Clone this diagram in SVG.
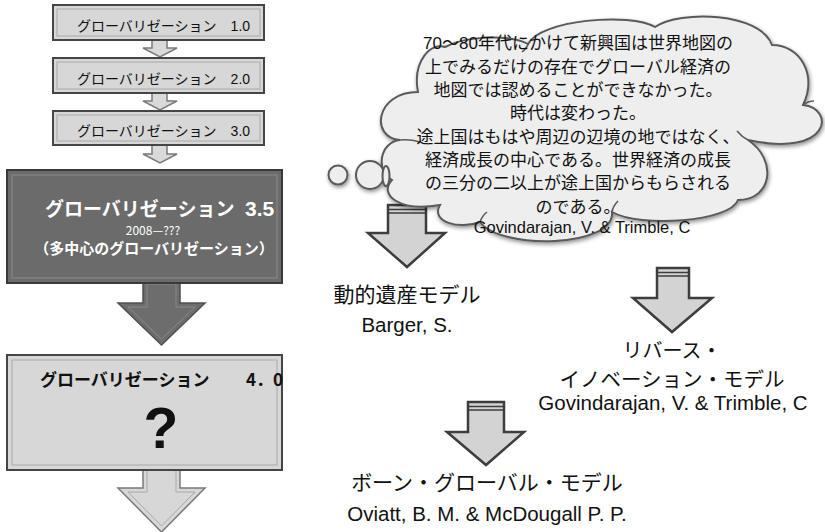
<svg xmlns="http://www.w3.org/2000/svg" width="825" height="532" viewBox="0 0 825 532">
<defs>
<style>
.jp{font-family:"Noto Sans CJK JP","Liberation Sans",sans-serif}
.lat{font-family:"Liberation Sans","Noto Sans CJK JP",sans-serif}
.sbox{fill:#d7d7d7;stroke:#454545;stroke-width:2}
.bev{fill:none;stroke:#a9a9a9;stroke-width:1}
.sarrow{fill:#dadada;stroke:#7a7a7a;stroke-width:1.5}
.rarrow{fill:#d3d3d3;stroke:#3d3d3d;stroke-width:2.5;stroke-linejoin:miter}
.stripe{stroke:#3d3d3d;stroke-width:1.5}
.stxt{font-size:14px;fill:#111}
.ctxt{font-size:17px;fill:#111;text-anchor:middle}
.mtxt{font-size:21px;fill:#111;text-anchor:middle}
.ref{font-size:20.5px;fill:#111;text-anchor:middle}
.cl{fill:#eeeeee;stroke:#5a5a5a;stroke-width:2}
.crease{fill:none;stroke:#5a5a5a;stroke-width:1.6}
</style>
<filter id="sh" x="-10%" y="-10%" width="120%" height="130%">
<feGaussianBlur in="SourceAlpha" stdDeviation="2"/>
<feOffset dx="1" dy="2"/>
<feComponentTransfer><feFuncA type="linear" slope="0.45"/></feComponentTransfer>
<feMerge><feMergeNode/><feMergeNode in="SourceGraphic"/></feMerge>
</filter>
</defs>
<rect width="825" height="532" fill="#ffffff"/>

<g id="connectors">
<path class="sarrow" d="M152,40 L167,40 L167,48 L177,48 L160,57 L143,48 L152,48 Z"/>
<path class="sarrow" d="M152,93 L167,93 L167,101 L177,101 L160,110 L143,101 L152,101 Z"/>
<path class="sarrow" d="M152,145 L167,145 L167,154 L177,154 L160,163 L143,154 L152,154 Z"/>
<path d="M143,280 L180,280 L180,303 L205,303 L161.5,345 L118,303 L143,303 Z" fill="#6d6d6d" stroke="#505050" stroke-width="1.5"/>
<path d="M147,284 L176,284 L176,307 L195,307 L161.5,339 L128,307 L147,307 Z" fill="none" stroke="#8a8a8a" stroke-width="1"/>
<path d="M143,468 L180,468 L180,488 L205,488 L161.5,532 L118,488 L143,488 Z" fill="#d7d7d7" stroke="#7a7a7a" stroke-width="1.5"/>
<path d="M147,470 L176,470 L176,492 L195,492 L161.5,526 L128,492 L147,492 Z" fill="none" stroke="#a9a9a9" stroke-width="1"/>

<path class="rarrow" d="M388,205 L426,205 L426,233 L445,233 L407,267 L368,233 L388,233 Z"/>
<line class="stripe" x1="388" y1="209.5" x2="426" y2="209.5"/>
<line class="stripe" x1="388" y1="213" x2="426" y2="213"/>
<path class="rarrow" d="M657,268 L689,268 L689,298 L712,298 L672,332 L633,298 L657,298 Z"/>
<line class="stripe" x1="657" y1="272.5" x2="689" y2="272.5"/>
<line class="stripe" x1="657" y1="276" x2="689" y2="276"/>
<path class="rarrow" d="M468,402 L504,402 L504,432 L524,432 L486,465 L447,432 L468,432 Z"/>
<line class="stripe" x1="468" y1="406.5" x2="504" y2="406.5"/>
<line class="stripe" x1="468" y1="410" x2="504" y2="410"/>
</g>

<g id="node-g10">
<rect class="sbox" x="53" y="5" width="211" height="35"/>
<rect class="bev" x="57" y="9" width="203" height="27"/>
<text class="jp stxt" x="77" y="31">グローバリゼーション　<tspan class="lat">1.0</tspan></text>
</g>
<g id="node-g20">
<rect class="sbox" x="53" y="58" width="211" height="35"/>
<rect class="bev" x="57" y="62" width="203" height="27"/>
<text class="jp stxt" x="77" y="84">グローバリゼーション　<tspan class="lat">2.0</tspan></text>
</g>
<g id="node-g30">
<rect class="sbox" x="53" y="111" width="211" height="34"/>
<rect class="bev" x="57" y="115" width="203" height="26"/>
<text class="jp stxt" x="77" y="136">グローバリゼーション　<tspan class="lat">3.0</tspan></text>
</g>

<g id="node-g35">
<rect x="7" y="170" width="275" height="113" fill="#6b6b6b" stroke="#3a3a3a" stroke-width="2"/>
<rect x="12" y="175" width="265" height="103" fill="none" stroke="#8c8c8c" stroke-width="1"/>
<text class="jp" x="45" y="216" font-size="19" font-weight="bold" fill="#ffffff">グローバリゼーション</text>
<text class="lat" x="245" y="216" font-size="21" font-weight="bold" fill="#ffffff">3.5</text>
<text class="jp" x="153" y="235" font-size="12" fill="#ffffff" text-anchor="middle">2008—???</text>
<text class="jp" x="154" y="254" font-size="15" font-weight="bold" fill="#ffffff" text-anchor="middle">（多中心のグローバリゼーション）</text>
</g>

<g id="node-g40">
<rect x="7" y="355" width="275" height="115" fill="#d7d7d7" stroke="#454545" stroke-width="2"/>
<rect x="12" y="360" width="265" height="105" fill="none" stroke="#a9a9a9" stroke-width="1"/>
<text class="jp" x="40" y="386" font-size="17" font-weight="bold" fill="#111">グローバリゼーション</text>
<text class="jp" x="246" y="386" font-size="17" font-weight="bold" fill="#111">4．0</text>
<text class="lat" x="161" y="448" font-size="57" font-weight="bold" fill="#111" text-anchor="middle">?</text>
</g>

<g id="node-cloud">
<g filter="url(#sh)">
<circle class="cl" cx="338" cy="175" r="9.5"/>
<circle class="cl" cx="370" cy="175" r="14"/>
<path class="cl" d="M400,140 C370,138 375,92 418,92 C412,60 432,42 445,47 C465,36 510,34 528,44 C540,20 630,12 655,27 C680,10 760,12 772,45 C800,45 818,75 803,105 C835,108 832,158 748,140 C778,160 772,200 738,200 C730,222 640,228 612,212 C615,248 500,250 480,222 C460,230 430,222 440,205 C400,212 378,195 392,180 C375,170 380,142 400,140 Z"/>
<ellipse class="cl" cx="386" cy="176" rx="3.5" ry="10"/>
</g>
<path class="crease" d="M400,140 Q410,139 420,142"/>
<path class="crease" d="M803,105 Q808,101 814,101"/>
<path class="crease" d="M748,140 Q742,137 737,131"/>
<path class="crease" d="M612,212 Q613,206 618,201"/>
<path class="crease" d="M480,222 Q482,216 487,212"/>
<path class="crease" d="M528,44 Q527,48 522,52"/>
<text class="jp ctxt" x="578" y="49"><tspan class="lat">70～80</tspan>年代にかけて新興国は世界地図の</text>
<text class="jp ctxt" x="578" y="73">上でみるだけの存在でグローバル経済の</text>
<text class="jp ctxt" x="578" y="96">地図では認めることができなかった。</text>
<text class="jp ctxt" x="578" y="119">時代は変わった。</text>
<text class="jp ctxt" x="578" y="143">途上国はもはや周辺の辺境の地ではなく、</text>
<text class="jp ctxt" x="578" y="166">経済成長の中心である。世界経済の成長</text>
<text class="jp ctxt" x="578" y="189">の三分の二以上が途上国からもらされる</text>
<text class="jp ctxt" x="578" y="213">のである。</text>
<text class="lat" x="582" y="233" font-size="16.5" fill="#111" text-anchor="middle">Govindarajan, V. &amp; Trimble, C</text>
</g>

<g id="node-dynamic">
<text class="jp mtxt" x="407" y="302">動的遺産モデル</text>
<text class="lat ref" x="407" y="332">Barger, S.</text>
</g>
<g id="node-reverse">
<text class="jp" x="672" y="358" font-size="20" fill="#111" text-anchor="middle">リバース・</text>
<text class="jp" x="672" y="387" font-size="20.5" fill="#111" text-anchor="middle">イノベーション・モデル</text>
<text class="lat ref" x="673" y="410">Govindarajan, V. &amp; Trimble, C</text>
</g>
<g id="node-born">
<text class="jp mtxt" x="487" y="490">ボーン・グローバル・モデル</text>
<text class="lat ref" x="487" y="521">Oviatt, B. M. &amp; McDougall P. P.</text>
</g>
</svg>
